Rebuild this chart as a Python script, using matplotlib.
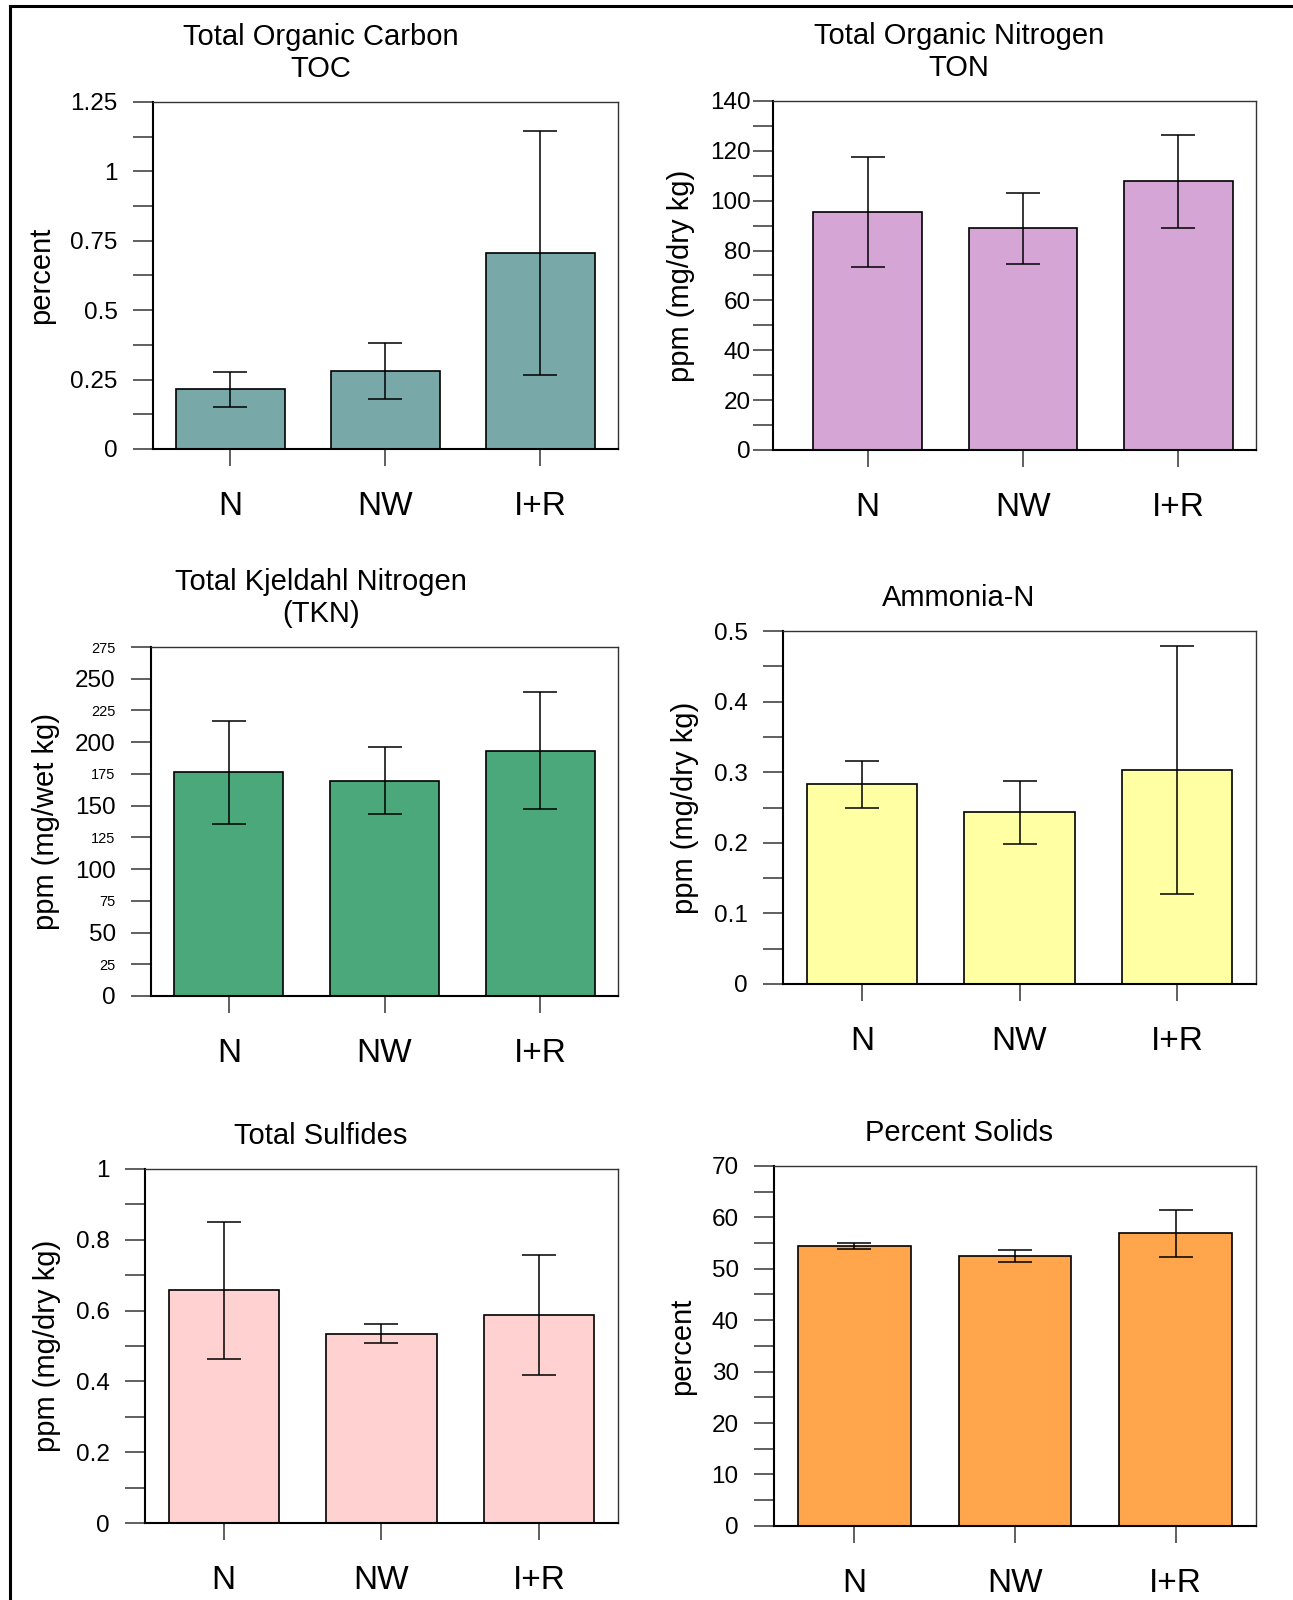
import matplotlib
matplotlib.use('Agg')
import matplotlib.pyplot as plt
from matplotlib.lines import Line2D
import numpy as np

plt.rcParams['font.family'] = ['Liberation Sans', 'DejaVu Sans']

categories = ['N', 'NW', 'I+R']

# values and error (half-width) for each panel
toc_mean = [0.215, 0.28, 0.706]
toc_err = [0.064, 0.10, 0.44]

ton_mean = [95.5, 88.9, 107.8]
ton_err = [22.0, 14.2, 18.6]

tkn_mean = [176.3, 169.8, 193.2]
tkn_err = [40.6, 26.5, 46.2]

nh3_mean = [0.283, 0.243, 0.303]
nh3_err = [0.033, 0.045, 0.176]

sulf_mean = [0.657, 0.535, 0.588]
sulf_err = [0.193, 0.026, 0.169]

solids_mean = [54.5, 52.5, 56.9]
solids_err = [0.6, 1.2, 4.6]

TITLE_FS = 21
YLAB_FS = 21
YTICK_FS = 17.5
XTICK_FS = 24

# titles are centred per column, not per axes
LEFT_TITLE_X = 321 / 1293
RIGHT_TITLE_X = 959 / 1293


def draw_panel(fig, rect, mean, err, color, title, ylabel,
               ymax, major, minor, title_x, small_labels=False,
               xleft=-0.5, ypad=11):
    ax = fig.add_axes(rect)
    x = np.arange(len(categories))
    ax.bar(x, mean, width=0.70, color=color, edgecolor='black',
           linewidth=1.2, zorder=2)
    ax.errorbar(x, mean, yerr=err, fmt='none', ecolor='black',
                elinewidth=1.1, capsize=12.5, capthick=1.1, zorder=3)
    ax.set_xlim(xleft, 2.5)
    ax.set_ylim(0, ymax)
    ax.set_xticks(x)
    ax.set_xticklabels(categories, fontsize=XTICK_FS)
    ax.tick_params(axis='x', length=12, width=1.2, color='#444444', pad=18.5)

    ticks = np.arange(0, ymax + minor / 2, minor)
    ax.set_yticks(ticks)
    labels = []
    for t in ticks:
        on_major = abs(t / major - round(t / major)) < 1e-6
        if on_major or small_labels:
            labels.append('%g' % round(t, 4))
        else:
            labels.append('')
    ax.set_yticklabels(labels)
    ax.tick_params(axis='y', length=14.4, width=1.2, color='#444444',
                   pad=ypad, labelsize=YTICK_FS)
    if small_labels:
        for t, lab in zip(ticks, ax.get_yticklabels()):
            if abs(t / major - round(t / major)) > 1e-6:
                lab.set_fontsize(10.5)

    for side in ['left', 'bottom']:
        ax.spines[side].set_linewidth(1.5)
        ax.spines[side].set_color('black')
    for side in ['top', 'right']:
        ax.spines[side].set_linewidth(1.0)
        ax.spines[side].set_color('#333333')

    tx = (title_x - rect[0]) / rect[2]
    ax.set_title(title, fontsize=TITLE_FS, pad=18, x=tx)
    ax.set_ylabel(ylabel, fontsize=YLAB_FS, labelpad=11)
    return ax


fig = plt.figure(figsize=(12.93, 16), dpi=100)

draw_panel(fig, [0.1183, 0.7194, 0.3596, 0.2169], toc_mean, toc_err,
           '#79a8a8', 'Total Organic Carbon\nTOC', 'percent',
           1.25, 0.25, 0.125, LEFT_TITLE_X)
draw_panel(fig, [0.5978, 0.7188, 0.3735, 0.2181], ton_mean, ton_err,
           '#d4a5d5', 'Total Organic Nitrogen\nTON', 'ppm (mg/dry kg)',
           140, 20, 10, RIGHT_TITLE_X, xleft=-0.61, ypad=1.5)
draw_panel(fig, [0.1168, 0.3775, 0.3612, 0.2181], tkn_mean, tkn_err,
           '#4aa87a', 'Total Kjeldahl Nitrogen\n(TKN)', 'ppm (mg/wet kg)',
           275, 50, 25, LEFT_TITLE_X, small_labels=True)
draw_panel(fig, [0.6056, 0.3850, 0.3658, 0.2206], nh3_mean, nh3_err,
           '#ffffa3', 'Ammonia-N', 'ppm (mg/dry kg)',
           0.5, 0.1, 0.05, RIGHT_TITLE_X)
draw_panel(fig, [0.1121, 0.0481, 0.3658, 0.2213], sulf_mean, sulf_err,
           '#ffd1d1', 'Total Sulfides', 'ppm (mg/dry kg)',
           1.0, 0.2, 0.1, LEFT_TITLE_X)
draw_panel(fig, [0.5986, 0.0463, 0.3728, 0.2250], solids_mean, solids_err,
           '#ffa64d', 'Percent Solids', 'percent',
           70, 10, 5, RIGHT_TITLE_X)

# outer frame lines (top and left only)
fig.add_artist(Line2D([10 / 1293, 1.0], [1 - 6 / 1600, 1 - 6 / 1600],
                      transform=fig.transFigure, color='black', linewidth=2.2))
fig.add_artist(Line2D([10 / 1293, 10 / 1293], [0, 1 - 6 / 1600],
                      transform=fig.transFigure, color='black', linewidth=2.2))

fig.savefig('out.png', dpi=100)
